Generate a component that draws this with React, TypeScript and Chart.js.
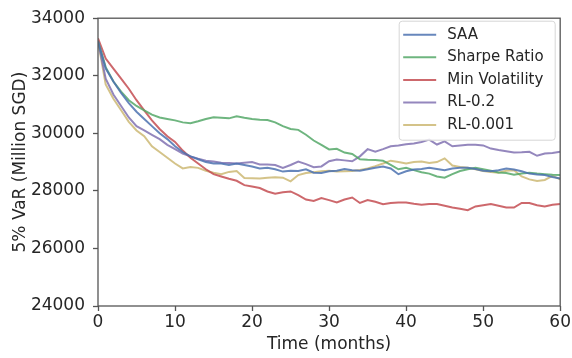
import React, { useEffect, useRef } from 'react';
import { Chart, registerables } from 'chart.js';

Chart.register(...registerables);

const months = [0, 1, 2, 3, 4, 5, 6, 7, 8, 9, 10, 11, 12, 13, 14, 15, 16, 17, 18, 19, 20, 21, 22, 23, 24, 25, 26, 27, 28, 29, 30, 31, 32, 33, 34, 35, 36, 37, 38, 39, 40, 41, 42, 43, 44, 45, 46, 47, 48, 49, 50, 51, 52, 53, 54, 55, 56, 57, 58, 59, 60];

const saa = [33200, 32250, 31800, 31400, 31050, 30750, 30500, 30250, 30000, 29800, 29550, 29350, 29200, 29100, 29000, 28950, 28950, 28900, 28950, 28900, 28850, 28780, 28800, 28750, 28670, 28700, 28690, 28750, 28630, 28620, 28680, 28700, 28760, 28720, 28700, 28750, 28800, 28850, 28780, 28580, 28680, 28740, 28760, 28800, 28760, 28720, 28780, 28800, 28800, 28760, 28700, 28680, 28720, 28780, 28740, 28680, 28600, 28570, 28550, 28480, 28430];

const sharpeRatio = [33200, 32300, 31800, 31450, 31150, 30950, 30800, 30650, 30550, 30500, 30450, 30380, 30350, 30420, 30500, 30560, 30540, 30520, 30590, 30540, 30500, 30470, 30460, 30380, 30250, 30150, 30120, 29950, 29750, 29600, 29440, 29460, 29330, 29280, 29100, 29080, 29070, 29050, 28900, 28750, 28800, 28720, 28650, 28600, 28500, 28460, 28580, 28690, 28750, 28800, 28750, 28700, 28640, 28620, 28560, 28600, 28630, 28600, 28580, 28560, 28550];

const minVolatility = [33300, 32600, 32250, 31900, 31550, 31150, 30800, 30450, 30150, 29900, 29700, 29400, 29150, 28950, 28750, 28580, 28500, 28420, 28350, 28200, 28150, 28100, 27980, 27900, 27950, 27980, 27850, 27700, 27650, 27750, 27680, 27600, 27700, 27770, 27580, 27680, 27620, 27540, 27580, 27600, 27600, 27550, 27520, 27540, 27540, 27480, 27420, 27380, 27330, 27460, 27500, 27540, 27480, 27420, 27420, 27580, 27580, 27500, 27460, 27520, 27540];

const rl02 = [33200, 31900, 31350, 30950, 30550, 30250, 30100, 29950, 29800, 29600, 29450, 29300, 29200, 29120, 29050, 29020, 28980, 28970, 28950, 28980, 29000, 28920, 28920, 28900, 28800, 28900, 29020, 28930, 28820, 28850, 29030, 29090, 29060, 29030, 29200, 29450, 29360, 29450, 29550, 29580, 29620, 29650, 29700, 29780, 29610, 29720, 29550, 29580, 29600, 29600, 29580, 29470, 29420, 29380, 29330, 29340, 29360, 29220, 29300, 29320, 29360];

const rl0001 = [33200, 31700, 31200, 30800, 30400, 30100, 29900, 29550, 29350, 29150, 28950, 28780, 28830, 28800, 28700, 28630, 28580, 28660, 28690, 28450, 28440, 28430, 28460, 28470, 28460, 28330, 28550, 28620, 28650, 28680, 28700, 28670, 28680, 28690, 28730, 28780, 28860, 28950, 29050, 29000, 28950, 29000, 29020, 28970, 29000, 29130, 28880, 28830, 28800, 28750, 28690, 28660, 28630, 28700, 28720, 28500, 28400, 28340, 28380, 28520, 28400];

const seriesNames = ['SAA', 'Sharpe Ratio', 'Min Volatility', 'RL-0.2', 'RL-0.001'];
const seriesValues = [saa, sharpeRatio, minVolatility, rl02, rl0001];
const seriesColors = ['rgba(76,114,176,0.85)', 'rgba(85,168,104,0.85)', 'rgba(196,78,82,0.85)', 'rgba(129,114,178,0.85)', 'rgba(204,185,116,0.85)'];

const xTicks = [0, 10, 20, 30, 40, 50, 60];
const yTicks = [24000, 26000, 28000, 30000, 32000, 34000];

const FONT = "'DejaVu Sans', sans-serif";
const TEXT = '#262626';

const framePlugin = {
  id: 'frame',
  afterDraw(chart: any) {
    const { ctx, chartArea: a } = chart;
    ctx.save();
    ctx.strokeStyle = '#555';
    ctx.lineWidth = 1.3;
    ctx.strokeRect(a.left, a.top, a.right - a.left, a.bottom - a.top);
    ctx.restore();
  },
};

const boxLegendPlugin = {
  id: 'boxLegend',
  afterDatasetsDraw(chart: any) {
    const { ctx, chartArea: a } = chart;
    const x0 = a.right - 161;
    const y0 = a.top + 3;
    const w = 156;
    const h = 119;
    const r = 3;
    ctx.save();
    ctx.beginPath();
    ctx.moveTo(x0 + r, y0);
    ctx.lineTo(x0 + w - r, y0);
    ctx.quadraticCurveTo(x0 + w, y0, x0 + w, y0 + r);
    ctx.lineTo(x0 + w, y0 + h - r);
    ctx.quadraticCurveTo(x0 + w, y0 + h, x0 + w - r, y0 + h);
    ctx.lineTo(x0 + r, y0 + h);
    ctx.quadraticCurveTo(x0, y0 + h, x0, y0 + h - r);
    ctx.lineTo(x0, y0 + r);
    ctx.quadraticCurveTo(x0, y0, x0 + r, y0);
    ctx.closePath();
    ctx.fillStyle = 'rgba(255,255,255,0.8)';
    ctx.fill();
    ctx.strokeStyle = '#d6d6d6';
    ctx.lineWidth = 1;
    ctx.stroke();
    ctx.font = `15px ${FONT}`;
    ctx.textBaseline = 'middle';
    ctx.fillStyle = TEXT;
    chart.data.datasets.forEach((ds: any, i: number) => {
      const cy = y0 + 13.5 + i * 22.6;
      ctx.beginPath();
      ctx.strokeStyle = ds.borderColor;
      ctx.lineWidth = 2;
      ctx.moveTo(x0 + 4, cy);
      ctx.lineTo(x0 + 37, cy);
      ctx.stroke();
      ctx.fillStyle = TEXT;
      ctx.fillText(ds.label, x0 + 48, cy);
    });
    ctx.restore();
  },
};

export default function App() {
  const ref = useRef<HTMLCanvasElement | null>(null);

  useEffect(() => {
    document.body.style.margin = '0';
    const canvas = ref.current;
    if (!canvas) return;
    const chart = new Chart(canvas, {
      type: 'line',
      data: {
        datasets: seriesNames.map((name, i) => ({
          label: name,
          data: months.map((m, j) => ({ x: m, y: seriesValues[i][j] })),
          borderColor: seriesColors[i],
          backgroundColor: seriesColors[i],
          borderWidth: 2,
          pointRadius: 0,
          tension: 0,
          fill: false,
        })),
      },
      options: {
        animation: false,
        responsive: false,
        maintainAspectRatio: false,
        layout: { padding: { left: 0, right: 10, top: 16, bottom: 0 } },
        plugins: {
          legend: { display: false },
          tooltip: { enabled: false },
        },
        scales: {
          x: {
            type: 'linear',
            min: 0,
            max: 60,
            afterBuildTicks: (scale: any) => {
              scale.ticks = xTicks.map((v) => ({ value: v }));
            },
            afterFit: (scale: any) => {
              scale.height = 52;
            },
            grid: { drawOnChartArea: false, drawTicks: true, tickLength: 5, tickColor: '#555', tickWidth: 1.3 },
            border: { display: false },
            ticks: { font: { family: FONT, size: 17 }, color: TEXT, padding: 1, maxRotation: 0 },
            title: { display: true, text: 'Time (months)', font: { family: FONT, size: 17 }, color: TEXT, padding: { top: 0, bottom: 3 } },
          },
          y: {
            type: 'linear',
            min: 24000,
            max: 34000,
            afterBuildTicks: (scale: any) => {
              scale.ticks = yTicks.map((v) => ({ value: v }));
            },
            afterFit: (scale: any) => {
              scale.width = 98;
            },
            grid: { drawOnChartArea: false, drawTicks: true, tickLength: 5, tickColor: '#555', tickWidth: 1.3 },
            border: { display: false },
            ticks: { font: { family: FONT, size: 17 }, color: TEXT, padding: 8, callback: (v: any) => String(v) },
            title: { display: true, text: '5% VaR (Million SGD)', font: { family: FONT, size: 17 }, color: TEXT, padding: { top: 10, bottom: 0 } },
          },
        },
      },
      plugins: [framePlugin, boxLegendPlugin],
    });
    return () => chart.destroy();
  }, []);

  return (
    <div style={{ width: 572, height: 358 }}>
      <canvas ref={ref} width={572} height={358} style={{ display: 'block' }} />
    </div>
  );
}
